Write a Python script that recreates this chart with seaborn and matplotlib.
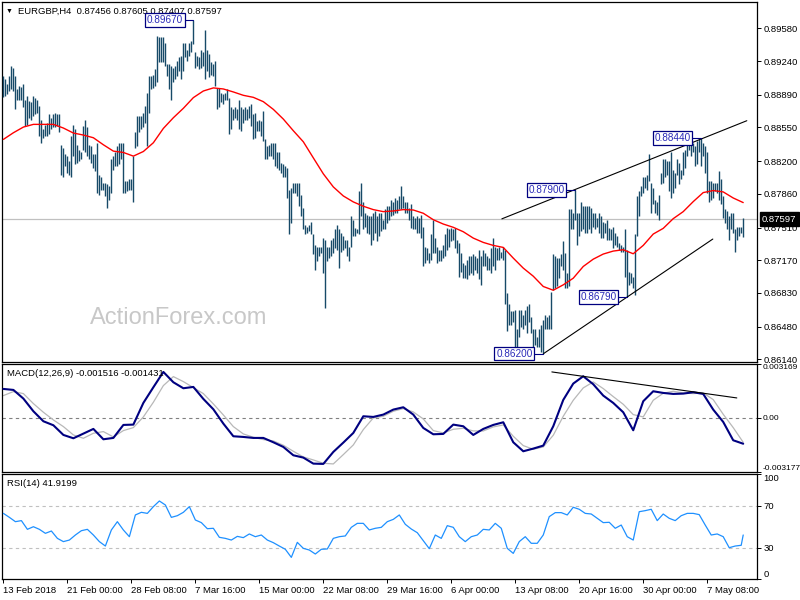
import numpy as np
import pandas as pd
import matplotlib
matplotlib.use("Agg")
import matplotlib.pyplot as plt
import matplotlib.transforms as mtransforms
import seaborn as sns

# ---- data (bar index 0 = first bar on the left) ----
bar_high = [
    0.8909, 0.8905, 0.8900, 0.8909, 0.8919, 0.8917, 0.8909, 0.8895, 0.8898, 0.8897,
    0.8900, 0.8884, 0.8888, 0.8883, 0.8881, 0.8888, 0.8886, 0.8884, 0.8877, 0.8863,
    0.8853, 0.8858, 0.8860, 0.8869, 0.8865, 0.8869, 0.8870, 0.8869, 0.8869, 0.8837,
    0.8834, 0.8827, 0.8825, 0.8820, 0.8846, 0.8858, 0.8853, 0.8837, 0.8832, 0.8830,
    0.8856, 0.8863, 0.8855, 0.8837, 0.8836, 0.8827, 0.8827, 0.8839, 0.8806, 0.8804,
    0.8797, 0.8797, 0.8796, 0.8794, 0.8822, 0.8825, 0.8829, 0.8836, 0.8839, 0.8839,
    0.8839, 0.8799, 0.8799, 0.8801, 0.8801, 0.8825, 0.8850, 0.8867, 0.8867, 0.8867,
    0.8870, 0.8877, 0.8891, 0.8909, 0.8909, 0.8910, 0.8916, 0.8950, 0.8949, 0.8949,
    0.8949, 0.8943, 0.8921, 0.8921, 0.8919, 0.8917, 0.8919, 0.8924, 0.8928, 0.8929,
    0.8943, 0.8943, 0.8936, 0.8943, 0.8945, 0.8967, 0.8933, 0.8929, 0.8928, 0.8936,
    0.8933, 0.8956, 0.8936, 0.8931, 0.8923, 0.8921, 0.8924, 0.8896, 0.8896, 0.8891,
    0.8890, 0.8891, 0.8895, 0.8886, 0.8876, 0.8874, 0.8876, 0.8874, 0.8884, 0.8876,
    0.8874, 0.8876, 0.8874, 0.8877, 0.8879, 0.8869, 0.8870, 0.8862, 0.8863, 0.8862,
    0.8872, 0.8843, 0.8836, 0.8837, 0.8839, 0.8839, 0.8839, 0.8830, 0.8830, 0.8818,
    0.8817, 0.8815, 0.8813, 0.8790, 0.8792, 0.8797, 0.8797, 0.8797, 0.8797, 0.8785,
    0.8771, 0.8754, 0.8752, 0.8754, 0.8757, 0.8744, 0.8733, 0.8731, 0.8731, 0.8731,
    0.8740, 0.8738, 0.8731, 0.8731, 0.8738, 0.8740, 0.8749, 0.8754, 0.8749, 0.8745,
    0.8742, 0.8738, 0.8738, 0.8731, 0.8763, 0.8759, 0.8751, 0.8749, 0.8789, 0.8797,
    0.8778, 0.8766, 0.8764, 0.8763, 0.8763, 0.8766, 0.8768, 0.8763, 0.8766, 0.8766,
    0.8759, 0.8770, 0.8773, 0.8773, 0.8780, 0.8778, 0.8782, 0.8780, 0.8784, 0.8794,
    0.8784, 0.8777, 0.8777, 0.8771, 0.8775, 0.8763, 0.8761, 0.8763, 0.8761, 0.8764,
    0.8752, 0.8731, 0.8730, 0.8724, 0.8744, 0.8759, 0.8740, 0.8731, 0.8728, 0.8728,
    0.8733, 0.8744, 0.8751, 0.8749, 0.8751, 0.8749, 0.8751, 0.8738, 0.8735, 0.8724,
    0.8714, 0.8712, 0.8717, 0.8721, 0.8721, 0.8723, 0.8721, 0.8719, 0.8728, 0.8721,
    0.8728, 0.8724, 0.8721, 0.8719, 0.8730, 0.8740, 0.8731, 0.8730, 0.8731, 0.8726,
    0.8731, 0.8728, 0.8683, 0.8672, 0.8664, 0.8664, 0.8665, 0.8645, 0.8665, 0.8665,
    0.8660, 0.8665, 0.8669, 0.8671, 0.8658, 0.8646, 0.8645, 0.8637, 0.8646, 0.8650,
    0.8655, 0.8660, 0.8658, 0.8660, 0.8684, 0.8723, 0.8721, 0.8719, 0.8719, 0.8723,
    0.8737, 0.8724, 0.8704, 0.8770, 0.8770, 0.8766, 0.8790, 0.8766, 0.8766, 0.8778,
    0.8773, 0.8773, 0.8773, 0.8773, 0.8771, 0.8766, 0.8766, 0.8761, 0.8766, 0.8763,
    0.8757, 0.8756, 0.8759, 0.8751, 0.8749, 0.8752, 0.8745, 0.8742, 0.8735, 0.8733,
    0.8731, 0.8749, 0.8728, 0.8705, 0.8704, 0.8700, 0.8744, 0.8784, 0.8789, 0.8794,
    0.8804, 0.8804, 0.8806, 0.8827, 0.8797, 0.8792, 0.8780, 0.8777, 0.8785, 0.8808,
    0.8822, 0.8822, 0.8820, 0.8820, 0.8830, 0.8811, 0.8808, 0.8822, 0.8818, 0.8811,
    0.8830, 0.8832, 0.8841, 0.8843, 0.8839, 0.8839, 0.8836, 0.8841, 0.8843, 0.8844,
    0.8839, 0.8836, 0.8829, 0.8799, 0.8799, 0.8797, 0.8797, 0.8797, 0.8810, 0.8801,
    0.8784, 0.8770, 0.8768, 0.8763, 0.8766, 0.8766, 0.8749, 0.8752, 0.8752, 0.8752,
    0.87605,
]
bar_low = [
    0.8887, 0.8888, 0.8890, 0.8893, 0.8895, 0.8893, 0.8874, 0.8884, 0.8884, 0.8884,
    0.8876, 0.8856, 0.8858, 0.8865, 0.8863, 0.8867, 0.8869, 0.8870, 0.8846, 0.8839,
    0.8844, 0.8846, 0.8846, 0.8848, 0.8853, 0.8855, 0.8855, 0.8856, 0.8850, 0.8806,
    0.8804, 0.8815, 0.8808, 0.8806, 0.8804, 0.8825, 0.8817, 0.8818, 0.8820, 0.8822,
    0.8832, 0.8829, 0.8825, 0.8822, 0.8818, 0.8813, 0.8810, 0.8787, 0.8785, 0.8790,
    0.8790, 0.8784, 0.8771, 0.8780, 0.8787, 0.8811, 0.8815, 0.8815, 0.8817, 0.8822,
    0.8787, 0.8787, 0.8789, 0.8790, 0.8790, 0.8778, 0.8834, 0.8836, 0.8850, 0.8853,
    0.8855, 0.8860, 0.8836, 0.8870, 0.8895, 0.8896, 0.8898, 0.8902, 0.8923, 0.8923,
    0.8923, 0.8919, 0.8909, 0.8895, 0.8884, 0.8902, 0.8905, 0.8909, 0.8914, 0.8905,
    0.8914, 0.8928, 0.8924, 0.8929, 0.8933, 0.8942, 0.8917, 0.8919, 0.8916, 0.8917,
    0.8919, 0.8905, 0.8914, 0.8907, 0.8910, 0.8909, 0.8898, 0.8874, 0.8876, 0.8881,
    0.8879, 0.8884, 0.8884, 0.8848, 0.8853, 0.8863, 0.8865, 0.8863, 0.8853, 0.8851,
    0.8860, 0.8863, 0.8863, 0.8865, 0.8856, 0.8843, 0.8844, 0.8851, 0.8851, 0.8846,
    0.8841, 0.8822, 0.8822, 0.8825, 0.8825, 0.8822, 0.8815, 0.8813, 0.8811, 0.8808,
    0.8804, 0.8804, 0.8782, 0.8744, 0.8756, 0.8787, 0.8787, 0.8784, 0.8773, 0.8763,
    0.8749, 0.8744, 0.8745, 0.8747, 0.8744, 0.8723, 0.8707, 0.8716, 0.8721, 0.8724,
    0.8704, 0.8667, 0.8716, 0.8719, 0.8721, 0.8724, 0.8730, 0.8728, 0.8709, 0.8726,
    0.8728, 0.8730, 0.8721, 0.8716, 0.8731, 0.8742, 0.8742, 0.8745, 0.8744, 0.8763,
    0.8749, 0.8752, 0.8745, 0.8744, 0.8733, 0.8738, 0.8745, 0.8737, 0.8742, 0.8747,
    0.8749, 0.8749, 0.8756, 0.8759, 0.8763, 0.8764, 0.8766, 0.8766, 0.8770, 0.8770,
    0.8771, 0.8766, 0.8766, 0.8759, 0.8751, 0.8749, 0.8749, 0.8745, 0.8745, 0.8740,
    0.8711, 0.8714, 0.8717, 0.8714, 0.8717, 0.8724, 0.8724, 0.8714, 0.8716, 0.8716,
    0.8719, 0.8721, 0.8728, 0.8731, 0.8737, 0.8738, 0.8730, 0.8724, 0.8700, 0.8705,
    0.8698, 0.8698, 0.8697, 0.8702, 0.8704, 0.8702, 0.8707, 0.8704, 0.8697, 0.8691,
    0.8711, 0.8711, 0.8707, 0.8707, 0.8704, 0.8711, 0.8707, 0.8717, 0.8717, 0.8719,
    0.8717, 0.8671, 0.8643, 0.8650, 0.8650, 0.8653, 0.8622, 0.8622, 0.8637, 0.8648,
    0.8646, 0.8650, 0.8641, 0.8653, 0.8641, 0.8627, 0.8629, 0.8627, 0.8627, 0.8622,
    0.8620, 0.8645, 0.8646, 0.8645, 0.8645, 0.8686, 0.8688, 0.8690, 0.8698, 0.8711,
    0.8707, 0.8688, 0.8688, 0.8690, 0.8749, 0.8749, 0.8759, 0.8733, 0.8742, 0.8747,
    0.8749, 0.8745, 0.8745, 0.8749, 0.8745, 0.8752, 0.8749, 0.8752, 0.8745, 0.8740,
    0.8740, 0.8745, 0.8738, 0.8738, 0.8738, 0.8730, 0.8733, 0.8731, 0.8728, 0.8726,
    0.8726, 0.8700, 0.8679, 0.8691, 0.8693, 0.8688, 0.8681, 0.8742, 0.8763, 0.8784,
    0.8787, 0.8792, 0.8790, 0.8799, 0.8766, 0.8775, 0.8766, 0.8764, 0.8759, 0.8796,
    0.8797, 0.8804, 0.8806, 0.8789, 0.8782, 0.8787, 0.8792, 0.8806, 0.8796, 0.8801,
    0.8806, 0.8813, 0.8825, 0.8832, 0.8825, 0.8830, 0.8815, 0.8817, 0.8829, 0.8815,
    0.8825, 0.8808, 0.8787, 0.8777, 0.8780, 0.8782, 0.8789, 0.8787, 0.8780, 0.8775,
    0.8761, 0.8756, 0.8749, 0.8738, 0.8749, 0.8745, 0.8726, 0.8738, 0.8742, 0.8745,
    0.87407,
]
last_close = 0.87597

# moving average (red), read every 5 bars
ma_bars = list(range(0, 371, 5))
ma_values = [
    0.88426, 0.88495, 0.88554, 0.88582, 0.88582, 0.88582, 0.88544, 0.88492, 0.88471, 0.88443,
    0.88370, 0.88304, 0.88290, 0.88252, 0.88300, 0.88391, 0.88540, 0.88651, 0.88749, 0.88860,
    0.88929, 0.88961, 0.88950, 0.88919, 0.88884, 0.88863, 0.88818, 0.88738, 0.88637, 0.88516,
    0.88401, 0.88234, 0.88068, 0.87932, 0.87838, 0.87776, 0.87731, 0.87696, 0.87675, 0.87682,
    0.87696, 0.87692, 0.87658, 0.87591, 0.87546, 0.87512, 0.87466, 0.87400, 0.87355, 0.87324,
    0.87303, 0.87192, 0.87088, 0.87004, 0.86897, 0.86858, 0.86914, 0.86983, 0.87105, 0.87181,
    0.87234, 0.87265, 0.87279, 0.87237, 0.87324, 0.87442, 0.87501, 0.87602, 0.87675, 0.87779,
    0.87873, 0.87894, 0.87880, 0.87817, 0.87769,
]

# MACD(12,26,9), read every 5 bars, in units of 0.001
macd_bars = list(range(0, 371, 5))
macd_main = [
    1.704, 1.646, 1.136, 0.392, -0.196, -0.431, -0.999, -1.195, -0.921, -0.646,
    -1.254, -1.175, -0.411, -0.392, 0.882, 1.802, 2.703, 2.096, 1.744, 1.822,
    1.117, 0.509, -0.333, -1.077, -1.117, -1.175, -1.175, -1.430, -1.704, -2.194,
    -2.331, -2.684, -2.703, -1.998, -1.450, -0.882, 0.098, 0.059, 0.196, 0.490,
    0.627, 0.196, -0.588, -0.960, -0.940, -0.392, -0.490, -0.999, -0.646, -0.411,
    -0.255, -1.430, -1.959, -1.802, -1.626, -0.490, 1.058, 2.018, 2.449, 1.979,
    1.313, 0.882, 0.333, -0.725, 0.980, 1.567, 1.469, 1.410, 1.430, 1.508,
    1.410, 0.490, -0.235, -1.313, -1.516,
]
macd_signal = [
    1.313, 1.548, 1.430, 0.842, 0.333, -0.118, -0.509, -0.999, -1.195, -0.901,
    -0.803, -1.117, -0.744, -0.568, 0.059, 0.921, 1.900, 2.429, 2.135, 1.783,
    1.430, 0.823, 0.176, -0.509, -0.940, -1.136, -1.273, -1.352, -1.606, -1.959,
    -2.292, -2.468, -2.664, -2.703, -2.155, -1.587, -0.686, 0.000, 0.098, 0.392,
    0.549, 0.353, -0.059, -0.744, -0.882, -0.666, -0.607, -0.764, -0.764, -0.529,
    -0.411, -1.077, -1.626, -1.841, -1.704, -1.019, 0.098, 1.038, 1.763, 2.116,
    1.724, 1.254, 0.803, 0.196, 0.059, 1.038, 1.450, 1.567, 1.469, 1.430,
    1.469, 1.077, 0.215, -0.568, -1.431,
]

# RSI(14), read every 3 bars
rsi_bars = list(range(0, 370, 3)) + [370]
rsi_values = [
    62.5, 58.7, 54.6, 55.6, 47.3, 49.8, 47.3, 43.5, 45.7, 38.7,
    35.6, 37.1, 41.9, 46.0, 47.3, 41.9, 35.6, 31.4, 46.7, 54.6,
    46.7, 40.3, 61.0, 63.5, 62.5, 68.9, 74.3, 70.5, 58.7, 60.3,
    63.5, 68.9, 56.2, 53.7, 47.9, 48.3, 39.7, 38.7, 37.1, 40.6,
    39.4, 42.9, 40.3, 41.9, 37.1, 34.6, 31.4, 28.3, 20.6, 34.9,
    29.2, 27.6, 23.8, 28.3, 28.6, 38.7, 40.3, 41.0, 49.2, 53.0,
    53.0, 46.7, 48.3, 49.2, 54.6, 56.8, 61.0, 52.1, 47.6, 44.1,
    36.5, 28.9, 41.9, 38.7, 50.8, 49.2, 40.3, 35.6, 40.3, 41.9,
    47.3, 46.7, 53.0, 48.3, 29.2, 24.4, 35.6, 40.3, 34.0, 34.0,
    41.9, 59.4, 63.2, 63.2, 61.0, 68.3, 66.4, 62.5, 61.9, 57.8,
    53.7, 54.0, 48.3, 51.4, 40.3, 37.1, 64.1, 65.1, 66.4, 55.6,
    61.9, 57.8, 55.6, 60.3, 62.5, 62.5, 61.3, 51.4, 41.9, 42.9,
    40.3, 29.8, 31.4, 32.1, 41.92,
]

# swing high / low labels (bar, price)
swing_bars = [95, 270, 286, 312, 349]
swing_prices = [0.89670, 0.86200, 0.87900, 0.86790, 0.88440]

# trend lines (bar, value) pairs
channel_upper = ([249.3, 371.8], [0.8760, 0.8862])
channel_lower = ([270.2, 354.8], [0.8620, 0.8739])
macd_trend = ([274.3, 366.8], [2.703, 1.175])

price_ticks = [0.89580, 0.89240, 0.88890, 0.88550, 0.88200, 0.87860,
               0.87510, 0.87170, 0.86830, 0.86480, 0.86140]
date_bars = [0, 32, 64, 96, 128, 160, 192, 224, 256, 288, 320, 352]
date_labels = ["13 Feb 2018", "21 Feb 00:00", "28 Feb 08:00", "7 Mar 16:00",
               "15 Mar 00:00", "22 Mar 08:00", "29 Mar 16:00", "6 Apr 00:00",
               "13 Apr 08:00", "20 Apr 16:00", "30 Apr 00:00", "7 May 08:00"]

# ---- style ----
sns.set_theme(style="white")
plt.rcParams["font.family"] = ["Liberation Sans", "DejaVu Sans"]

BAR_C = "#174a68"
NAVY = "#000080"
LBL_C = "#2a2ab8"
FS = 6.8

fig = plt.figure(figsize=(8, 6), dpi=100)
fig.patch.set_facecolor("white")
W = 755 / 800
ax_p = fig.add_axes([2 / 800, 1 - 362 / 600, W, 360 / 600])
ax_m = fig.add_axes([2 / 800, 1 - 472 / 600, W, 108 / 600])
ax_r = fig.add_axes([2 / 800, 1 - 579 / 600, W, 105 / 600])

for ax in (ax_p, ax_m, ax_r):
    ax.set_facecolor("white")
    ax.set_xlim(-0.7, 376.9)
    for s in ax.spines.values():
        s.set_color("black")
        s.set_linewidth(0.9)
    ax.yaxis.tick_right()
    ax.tick_params(axis="y", which="both", right=True, left=False, labelright=True,
                   labelleft=False, direction="out", length=3, width=0.7, pad=1.5,
                   labelsize=FS, colors="black")
    ax.tick_params(axis="x", bottom=False, labelbottom=False)
    ax.grid(False)

# ---- price panel ----
n_bars = len(bar_high)
bars = pd.DataFrame({"bar": np.arange(n_bars), "high": bar_high, "low": bar_low})
ax_p.set_ylim(0.86112, 0.89854)
ax_p.axhline(last_close, color="#c0c0c0", lw=0.9, zorder=1)
ax_p.vlines(bars["bar"], bars["low"], bars["high"], color=BAR_C, lw=1.0, zorder=3)
ma_df = pd.DataFrame({"bar": ma_bars, "ma": ma_values})
sns.lineplot(data=ma_df, x="bar", y="ma", ax=ax_p, color="red", lw=1.0, zorder=4)
ax_p.plot(*channel_upper, color="black", lw=0.8, zorder=5)
ax_p.plot(*channel_lower, color="black", lw=0.8, zorder=5)

for b, p in zip(swing_bars, swing_prices):
    ax_p.plot([b - 5.3, b], [p, p], color=NAVY, lw=0.8, zorder=6)
    ax_p.text(b - 5.3, p, f"{p:.5f}", ha="right", va="center", fontsize=7.2,
              color=LBL_C, zorder=7,
              bbox=dict(boxstyle="square,pad=0.18", fc="white", ec=NAVY, lw=0.9))

ax_p.set_yticks(price_ticks)
ax_p.set_yticklabels([f"{v:.5f}" for v in price_ticks])
ax_p.set_xlabel("")
ax_p.set_ylabel("")

blend = mtransforms.blended_transform_factory(ax_p.transAxes, ax_p.transData)
ax_p.text(1.0065, last_close, f"{last_close:.5f}", transform=blend, ha="left",
          va="center", fontsize=FS, color="white", zorder=10, clip_on=False,
          bbox=dict(boxstyle="square,pad=0.25", fc="black", ec="black"))

ax_p.text(0.0053, 0.9745, "\u25bc", transform=ax_p.transAxes, fontsize=5,
          va="center", ha="left", color="black")
ax_p.text(0.021, 0.9745, "EURGBP,H4  0.87456 0.87605 0.87407 0.87597",
          transform=ax_p.transAxes, fontsize=6.8, va="center", ha="left",
          color="black")
ax_p.text(0.1166, 0.122, "ActionForex.com", transform=ax_p.transAxes,
          fontsize=17, color="#c8c8c8", va="center", ha="left", zorder=0)

# ---- MACD panel ----
macd_df = pd.DataFrame({"bar": macd_bars,
                        "main": np.array(macd_main) / 1000,
                        "signal": np.array(macd_signal) / 1000})
ax_m.set_ylim(-0.003177, 0.003169)
ax_m.axhline(0, color="#808080", lw=0.8, ls=(0, (3, 3)), zorder=1)
sns.lineplot(data=macd_df, x="bar", y="signal", ax=ax_m, color="#b8b8b8", lw=0.9, zorder=2)
sns.lineplot(data=macd_df, x="bar", y="main", ax=ax_m, color=NAVY, lw=1.5, zorder=3)
ax_m.plot(macd_trend[0], np.array(macd_trend[1]) / 1000, color="black", lw=0.8, zorder=4)
ax_m.set_yticks([0.003169, 0.0, -0.003177])
labs = ax_m.set_yticklabels(["0.003169", "0.00", "-0.003177"])
labs[0].set_va("top")
labs[2].set_va("bottom")
ax_m.tick_params(axis="y", labelsize=6.0, pad=1.0)
ax_m.set_xlabel("")
ax_m.set_ylabel("")
ax_m.text(0.0066, 0.915, "MACD(12,26,9) -0.001516 -0.001431", transform=ax_m.transAxes,
          fontsize=FS, va="center", ha="left", color="black")

# ---- RSI panel ----
rsi_df = pd.DataFrame({"bar": rsi_bars, "rsi": rsi_values})
ax_r.set_ylim(0, 100)
for lvl in (70, 30):
    ax_r.axhline(lvl, color="#c0c0c0", lw=0.8, ls=(0, (3, 3)), zorder=1)
sns.lineplot(data=rsi_df, x="bar", y="rsi", ax=ax_r, color="#1e90ff", lw=0.9, zorder=3)
ax_r.set_yticks([100, 70, 30, 0])
labs = ax_r.set_yticklabels(["100", "70", "30", "0"])
labs[0].set_va("top")
labs[3].set_va("bottom")
ax_r.set_xlabel("")
ax_r.set_ylabel("")
ax_r.text(0.0066, 0.91, "RSI(14) 41.9199", transform=ax_r.transAxes,
          fontsize=FS, va="center", ha="left", color="black")

ax_r.set_xticks(date_bars)
ax_r.set_xticklabels(date_labels, ha="left")
ax_r.tick_params(axis="x", bottom=True, labelbottom=True, direction="out", length=3,
                 width=0.7, pad=2, labelsize=FS, colors="black")

fig.savefig("out.png", dpi=100)
